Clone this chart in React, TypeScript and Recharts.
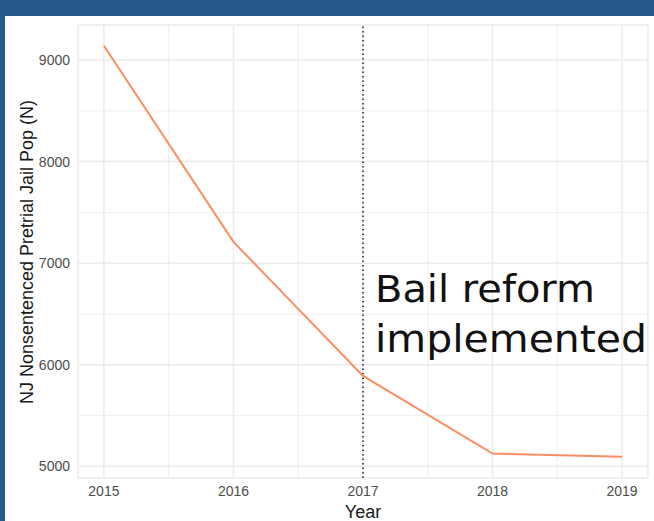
import { LineChart, Line, XAxis, YAxis, CartesianGrid, ReferenceLine, Label } from "recharts";

const years     = [2015, 2016, 2017, 2018, 2019];
const jailPop   = [9140, 7210, 5890, 5125, 5095];
const yTicks    = [5000, 6000, 7000, 8000, 9000];
const yMinor    = [5500, 6500, 7500, 8500];
const xMinor    = [2015.5, 2016.5, 2017.5, 2018.5];
const reformYear = 2017;
const noteLines = ["Bail reform", "implemented"];

const data = years.map((year, i) => ({ year, pop: jailPop[i] }));

const AXIS_FONT = "'Liberation Sans', Arial, sans-serif";
const GRID = "#ebebeb";

export default function App() {
  return (
    <div style={{ position: "absolute", left: 0, top: 0, width: 654, height: 521, background: "#27598a" }}>
      <div style={{ position: "absolute", left: 5, top: 16, width: 649, height: 505, background: "#fff" }} />
      <div style={{ position: "absolute", left: 0, top: 0 }}>
        <LineChart width={654} height={521} data={data} margin={{ top: 25, right: 6, bottom: 0, left: 0 }}>
          <CartesianGrid stroke={GRID} strokeWidth={1.5} />
          {yMinor.map(v => (
            <ReferenceLine key={`y${v}`} y={v} stroke={GRID} strokeWidth={0.8} />
          ))}
          {xMinor.map(v => (
            <ReferenceLine key={`x${v}`} x={v} stroke={GRID} strokeWidth={0.8} />
          ))}
          <XAxis
            dataKey="year" type="number" domain={[2014.8, 2019.2]} ticks={years}
            axisLine={false} tickLine={false} height={43}
            tick={{ fill: "#4d4d4d", fontSize: 14, fontFamily: AXIS_FONT }}
          >
            <Label
              content={({ viewBox }: any) => (
                <text x={viewBox.x + viewBox.width / 2} y={viewBox.y + 40} textAnchor="middle"
                  fontSize={18} fontFamily={AXIS_FONT} fill="#1a1a1a">Year</text>
              )}
            />
          </XAxis>
          <YAxis
            type="number" domain={[4885, 9345]} ticks={yTicks}
            axisLine={false} tickLine={false} width={78}
            tick={{ fill: "#4d4d4d", fontSize: 14, fontFamily: AXIS_FONT }}
          >
            <Label
              content={({ viewBox }: any) => {
                const cx = viewBox.x + 33;
                const cy = 252;
                return (
                  <text x={cx} y={cy} transform={`rotate(-90, ${cx}, ${cy})`} textAnchor="middle"
                    fontSize={18} fontFamily={AXIS_FONT} fill="#1a1a1a">
                    NJ Nonsentenced Pretrial Jail Pop (N)
                  </text>
                );
              }}
            />
          </YAxis>
          <ReferenceLine x={reformYear} stroke="#222" strokeWidth={1.5} strokeDasharray="1.5 3">
            <Label
              content={({ viewBox }: any) => (
                <text fontSize={37} fontFamily="'DejaVu Sans', sans-serif" fill="#111">
                  <tspan x={viewBox.x + 12} y={viewBox.y + 277} textLength={220} lengthAdjust="spacingAndGlyphs">{noteLines[0]}</tspan>
                  <tspan x={viewBox.x + 12} y={viewBox.y + 327} textLength={272} lengthAdjust="spacingAndGlyphs">{noteLines[1]}</tspan>
                </text>
              )}
            />
          </ReferenceLine>
          <Line type="linear" dataKey="pop" stroke="#fc8d62" strokeWidth={2} dot={false} isAnimationActive={false} />
        </LineChart>
      </div>
    </div>
  );
}
